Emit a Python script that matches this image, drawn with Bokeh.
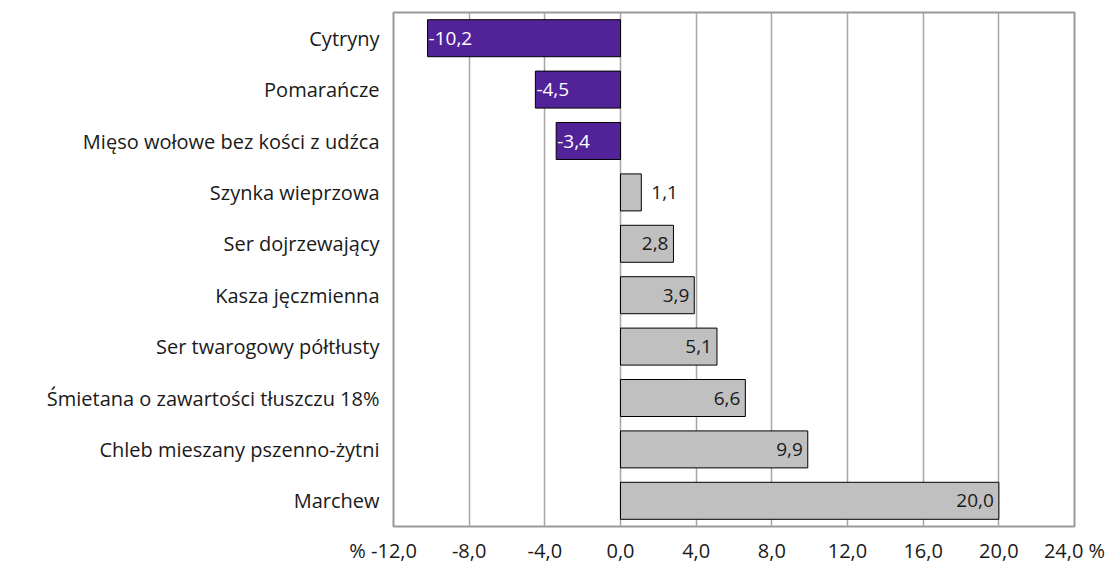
from bokeh.plotting import figure
from bokeh.models import ColumnDataSource, FixedTicker, Range1d, FactorRange
from bokeh.embed import file_html
from bokeh.resources import INLINE
from bokeh.core.properties import value

categories = ["Cytryny", "Pomarańcze", "Mięso wołowe bez kości z udźca", "Szynka wieprzowa",
              "Ser dojrzewający", "Kasza jęczmienna", "Ser twarogowy półtłusty",
              "Śmietana o zawartości tłuszczu 18%", "Chleb mieszany pszenno-żytni", "Marchew"]
values = [-10.2, -4.5, -3.4, 1.1, 2.8, 3.9, 5.1, 6.6, 9.9, 20.0]
ticks = [-12, -8, -4, 0, 4, 8, 12, 16, 20, 24]
tick_labels = ["%\u00a0-12,0\u00a0\u00a0\u00a0\u00a0", "-8,0", "-4,0", "0,0", "4,0", "8,0",
               "12,0", "16,0", "20,0", "24,0\u00a0%"]

FONT = "Open Sans"
PURPLE = "#522398"
GRAY = "#c0c0c0"

colors = [PURPLE if v < 0 else GRAY for v in values]
labels = [f"{v:.1f}".replace(".", ",") for v in values]
lab_color = ["white" if v < 0 else "#1a1a1a" for v in values]
lab_align = ["left" if v < 2 else "right" for v in values]
lab_off = [1 if v < 0 else (10 if v < 2 else -5) for v in values]

src = ColumnDataSource(dict(cat=categories, val=values, zero=[0] * len(values), color=colors,
                            label=labels, lcolor=lab_color, lalign=lab_align, loff=lab_off))

p = figure(width=1110, height=566, output_backend="svg", toolbar_location=None,
           y_range=FactorRange(*reversed(categories)), x_range=Range1d(-12, 24))
p.min_border_left = 393
p.min_border_right = 36
p.min_border_top = 12
p.min_border_bottom = 39

p.hbar(y="cat", left="zero", right="val", height=0.72, fill_color="color",
       line_color="black", line_width=1, source=src)
p.text(x="val", y="cat", text="label", text_color="lcolor", text_align="lalign",
       x_offset="loff", text_baseline="middle", text_font=value(FONT),
       text_font_size="19px", source=src)

p.outline_line_color = "#999999"
p.outline_line_width = 2
p.ygrid.grid_line_color = None
p.xgrid.grid_line_color = "#a6a6a6"
p.xgrid.grid_line_width = 1.5
p.xaxis.ticker = FixedTicker(ticks=ticks)
p.xaxis.major_label_overrides = {t: l for t, l in zip(ticks, tick_labels)}
for ax in (p.xaxis[0], p.yaxis[0]):
    ax.axis_line_color = None
    ax.major_tick_line_color = None
    ax.minor_tick_line_color = None
    ax.major_tick_out = 0
    ax.major_label_text_font = FONT
    ax.major_label_text_font_size = "20px"
    ax.major_label_text_color = "#1a1a1a"
p.xaxis.major_label_standoff = 10
p.yaxis.major_label_standoff = 14

open("out.html", "w").write(file_html(p, INLINE))
